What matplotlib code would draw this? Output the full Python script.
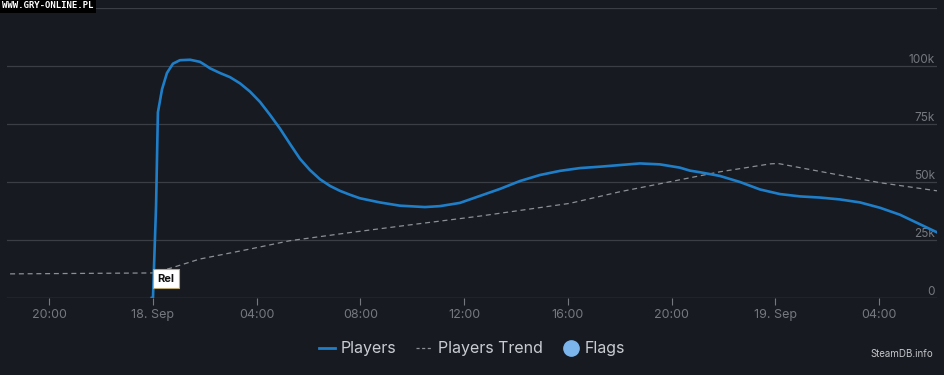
import matplotlib.pyplot as plt
from matplotlib.lines import Line2D
import matplotlib.transforms as mtransforms

# hours relative to 18 Sep 00:00
players_h = [-0.05, 0.0, 0.12, 0.19, 0.35, 0.54, 0.77, 1.04, 1.43, 1.81, 2.0, 2.2, 2.58,
             2.97, 3.36, 3.74, 4.13, 4.51, 4.9, 5.28, 5.67, 6.05, 6.44, 6.83, 7.21,
             7.6, 7.98, 8.75, 9.52, 10.49, 11.07, 11.84, 12.61, 13.38, 14.15, 14.92,
             15.7, 16.47, 17.24, 18.01, 18.78, 19.55, 20.32, 20.71, 21.1, 21.87, 22.64,
             23.41, 24.18, 24.95, 25.72, 26.49, 27.27, 28.04, 28.81, 29.58, 30.24]
players = [0, 0, 40000, 80000, 90000, 97000, 101000, 102500, 102700, 101800, 100500, 99000, 97000,
           95200, 92500, 89000, 84500, 79000, 73000, 66500, 60000, 55200, 51200, 48300, 46200,
           44500, 43000, 41200, 39800, 39200, 39600, 41000, 44000, 47000, 50400, 53000,
           54800, 56000, 56600, 57300, 58000, 57600, 56200, 54900, 54200, 52600, 50000,
           46800, 44800, 43800, 43300, 42500, 41200, 38900, 35900, 31800, 28300]

trend_h = [-5.51, 0.0, 0.66, 1.81, 3.74, 5.28, 7.6, 10.18, 12.61, 16.08, 18.01,
           19.94, 21.87, 23.8, 24.1, 24.95, 28.04, 30.24]
trend = [10400, 10800, 12800, 16800, 21100, 24700, 28200, 31900, 35300, 40800, 45800,
         50100, 54400, 57800, 58000, 56200, 49700, 46200]

xtick_pos = [-4, 0, 4, 8, 12, 16, 20, 24, 28]
xtick_lab = ['20:00', '18. Sep', '04:00', '08:00', '12:00', '16:00', '20:00', '19. Sep', '04:00']
ytick_pos = [0, 25000, 50000, 75000, 100000]
ytick_lab = ['0', '25k', '50k', '75k', '100k']

bg = '#171a21'
grid_c = '#3b3e45'
tick_c = '#75787e'

plt.rcParams['font.family'] = ['Inter', 'DejaVu Sans']

fig = plt.figure(figsize=(9.45, 3.75), dpi=100, facecolor=bg)
ax = fig.add_axes([7 / 945, 77 / 375, 930 / 945, 290 / 375])
ax.set_facecolor(bg)

ax.set_xlim(-5.63, 30.24)
ax.set_ylim(0, 125000)

for v in ytick_pos[1:] + [125000]:
    ax.axhline(v, color=grid_c, lw=0.9, zorder=0)
ax.axhline(0, color='#4a4d54', lw=1.0, zorder=0)

trans = mtransforms.blended_transform_factory(ax.transAxes, ax.transData)
for v, lab in zip(ytick_pos, ytick_lab):
    ax.text(0.998, v + 200, lab, transform=trans, ha='right', va='bottom',
            color=tick_c, fontsize=8.5)

ax.plot(trend_h, trend, color='#8c8f94', lw=0.9, ls=(0, (4, 3)), zorder=2)
ax.plot(players_h, players, color='#1f7ec8', lw=1.9, zorder=3, solid_joinstyle='round')

ax.text(0.17, 8400, 'Rel', ha='left', va='center', fontsize=8, fontweight='bold',
        color='#111111', zorder=5,
        bbox=dict(boxstyle='square,pad=0.4', fc='white', ec='#b8a878', lw=0.8))

ax.set_yticks([])
ax.set_xticks(xtick_pos)
ax.set_xticklabels(xtick_lab)
ax.tick_params(axis='x', colors=tick_c, length=5, width=0.8, labelsize=9, pad=3,
               labelcolor=tick_c)
for s in ax.spines.values():
    s.set_visible(False)

handles = [Line2D([], [], color='#1f7ec8', lw=2),
           Line2D([], [], color='#8c8f94', lw=0.9, ls=(0, (2.5, 2))),
           Line2D([], [], color='#7cb5ec', lw=0, marker='o', markersize=11)]
leg = fig.legend(handles, ['Players', 'Players Trend', 'Flags'], loc='center',
                 bbox_to_anchor=(472 / 945, 1 - 349 / 375), ncol=3, frameon=False,
                 fontsize=11.5, labelcolor='#c9ccd1', handlelength=1.0,
                 handletextpad=0.35, columnspacing=1.25)

fig.text(933 / 945, 1 - 354 / 375, 'SteamDB.info', ha='right', va='center',
         fontsize=7, color='#c4c6ca')

fig.text(2 / 945, 1 - 6 / 375, 'WWW.GRY-ONLINE.PL', ha='left', va='center',
         fontsize=6.5, color='white', family='DejaVu Sans Mono', fontweight='bold',
         bbox=dict(boxstyle='square,pad=0.25', fc='black', ec='none'))

fig.savefig('out.png', dpi=100, facecolor=bg)
